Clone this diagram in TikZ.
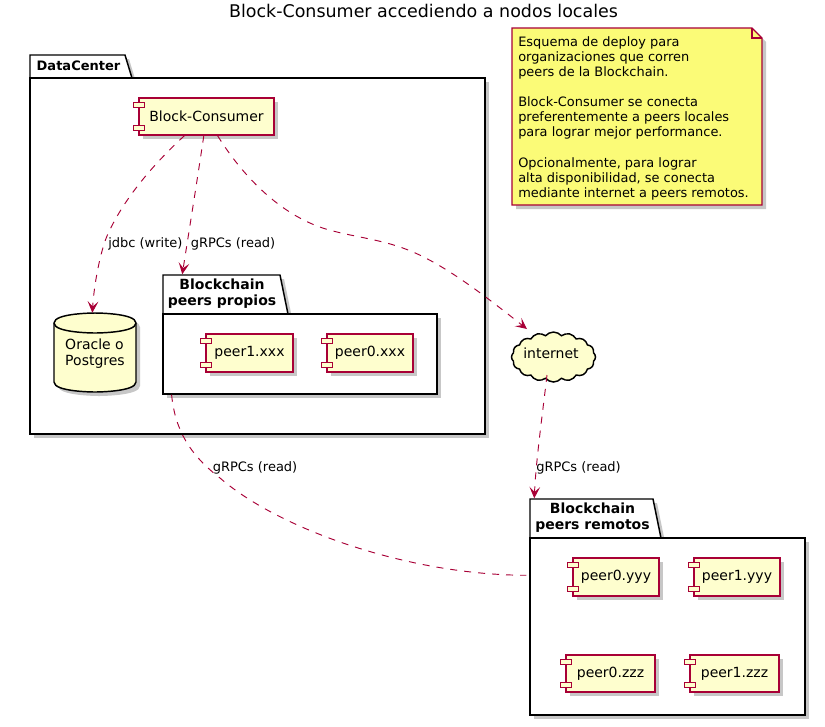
\documentclass[tikz,border=0pt]{standalone}
\usepackage{fontspec}
\setmainfont{DejaVu Sans}
\usetikzlibrary{shapes.symbols,shadows,arrows.meta}
\definecolor{umlred}{HTML}{A80036}
\definecolor{umlfill}{HTML}{FEFECE}
\definecolor{umlnote}{HTML}{FBFB77}
\tikzset{
	boxshadow/.style={drop shadow={shadow xshift=3pt,shadow yshift=-3pt,fill=black!40,opacity=0.55}},
	pkgbody/.style={draw=black,line width=1.1pt,fill=white,boxshadow,inner sep=0pt},
	pkgtab/.style={draw=black,line width=1.1pt,fill=white,boxshadow},
	pkgtext/.style={font=\fontsize{10.5}{12}\selectfont\bfseries,align=center,inner sep=0pt},
	comp/.style={draw=umlred,line width=0.9pt,fill=umlfill,boxshadow,inner sep=0pt,font=\fontsize{10.5}{12}\selectfont},
	comptab/.style={draw=umlred,line width=0.8pt,fill=umlfill},
	dep/.style={draw=umlred,line width=0.7pt,dash pattern=on 5.25pt off 5.25pt},
	deparrow/.style={dep,-{Stealth[length=8.5pt,width=8pt,inset=3.8pt]}},
	edgetext/.style={font=\fontsize{9.75}{11.4}\selectfont,anchor=west,inner sep=0pt},
}
\newcommand{\compnode}[6]{%
	\node[comp,minimum width=#4*0.75pt,minimum height=#5*0.75pt] (#1) at (#2,#3) {#6};
	\draw[comptab] ([shift={(-5,5)}]#1.north west) rectangle ++(11,5);
	\draw[comptab] ([shift={(-5,-10)}]#1.south west) rectangle ++(11,5);
}
\begin{document}
\begin{tikzpicture}[x=0.75pt,y=0.75pt,yscale=-1,xscale=1]
	\useasboundingbox (0,0) rectangle (825,726);
	
	% Title
	\node[font=\fontsize{13.1}{16}\selectfont,inner sep=0pt] (title) at (423.5,11) {Block-Consumer accediendo a nodos locales};
	
	% DataCenter
	\draw[pkgtab] (30,78) -- (30,55) -- (125,55) -- (132,78) -- cycle;
	\node[pkgbody,minimum width=455*0.75pt,minimum height=356*0.75pt] (dc) at (257.5,256) {};
	\node[pkgtext,font=\fontsize{9.75}{12}\selectfont\bfseries] (dctext) at (78.5,66) {DataCenter};
	
	% Note
	\draw[draw=umlred,line width=0.9pt,fill=umlnote,boxshadow] (512,28) -- (752,28) -- (762,38) -- (762,205) -- (512,205) -- cycle;
	\draw[draw=umlred,line width=0.9pt] (752,28) -- (752,38) -- (762,38);
	\node[anchor=north west,inner sep=0pt,align=left,font=\fontsize{9.7}{11.35}\selectfont] (note) at (518,36) {Esquema de deploy para\\organizaciones que corren\\peers de la Blockchain.\\~\\Block-Consumer se conecta\\preferentemente a peers locales\\para lograr mejor performance.\\~\\Opcionalmente, para lograr\\alta disponibilidad, se conecta\\mediante internet a peers remotos.};
	
	% Components in the data center
	\compnode{consumer}{206.5}{116.5}{135}{37}{Block-Consumer}
	
	% Database
	\draw[draw=black,line width=1.1pt,fill=umlfill,boxshadow] (54,323) .. controls (54,313) and (95,313) .. (95,313) .. controls (95,313) and (136,313) .. (136,323) -- (136,382) .. controls (136,392) and (95,392) .. (95,392) .. controls (95,392) and (54,392) .. (54,382) -- cycle;
	\draw[draw=black,line width=1.1pt] (54,323) .. controls (54,333) and (95,333) .. (95,333) .. controls (95,333) and (136,333) .. (136,323);
	\node[inner sep=0pt,minimum width=82*0.75pt,minimum height=79*0.75pt] (db) at (95,352.5) {};
	\node[align=left,inner sep=0pt,font=\fontsize{10.5}{12}\selectfont] (dbtext) at (95,354) {Oracle o\\Postgres};
	
	% Blockchain peers propios
	\draw[pkgtab] (163,314) -- (163,275) -- (280,275) -- (288,314) -- cycle;
	\node[pkgbody,minimum width=274*0.75pt,minimum height=80*0.75pt] (propios) at (300,354) {};
	\node[pkgtext] (propiostext) at (222,294) {Blockchain\\peers propios};
	\compnode{peeronexxx}{249.5}{353}{87}{38}{peer1.xxx}
	\compnode{peerzeroxxx}{370}{353}{86}{38}{peer0.xxx}
	
	% Internet
	\node[draw=black,line width=1.1pt,fill=umlfill,shape=cloud,cloud puffs=16,cloud puff arc=100,aspect=1.7,minimum width=84*0.75pt,minimum height=50*0.75pt,inner sep=0pt] (internet) at (553.5,357) {};
	\node[inner sep=0pt,font=\fontsize{10.5}{12}\selectfont] (internettext) at (551,353) {internet};
	
	% Blockchain peers remotos
	\draw[pkgtab] (530,538) -- (530,499) -- (653,499) -- (661,538) -- cycle;
	\node[pkgbody,minimum width=275*0.75pt,minimum height=177*0.75pt] (remotos) at (667.5,626.5) {};
	\node[pkgtext] (remotostext) at (592.5,518) {Blockchain\\peers remotos};
	\compnode{peerzeroyyy}{616}{577}{86}{38}{peer0.yyy}
	\compnode{peeroneyyy}{737}{577}{86}{38}{peer1.yyy}
	\compnode{peerzerozzz}{610.5}{673.5}{89}{37}{peer0.zzz}
	\compnode{peeronezzz}{734.5}{673.5}{89}{37}{peer1.zzz}
	
	% Connections
	\draw[deparrow] (consumer.-139) .. controls (160,158) and (125,195) .. (107,236) .. controls (100,253) and (94,285) .. ([xshift=-2]db.north);
	\draw[deparrow] (consumer.-98) .. controls (198,175) and (190,225) .. ([shift={(20,-39)}]propios.north west);
	\draw[deparrow] (consumer.-60) .. controls (240,172) and (280,218) .. (333,231) .. controls (360,238) and (385,240) .. (413,252) .. controls (450,268) and (490,300) .. ([shift={(-26.5,-28)}]internet.center);
	\draw[deparrow] ([shift={(-6.5,18)}]internet.center) .. controls (543,410) and (536,460) .. ([shift={(5,-39)}]remotos.north west);
	\draw[dep] ([xshift=7]propios.south west) .. controls (175,430) and (190,455) .. (220,478) .. controls (280,530) and (410,575) .. ([shift={(-3,38)}]remotos.north west);
	
	% Edge labels
	\node[edgetext] (jdbc) at (108,244) {jdbc (write)};
	\node[edgetext] (grpcone) at (190.5,244) {gRPCs (read)};
	\node[edgetext] (grpctwo) at (212.5,468) {gRPCs (read)};
	\node[edgetext] (grpcthree) at (536,468) {gRPCs (read)};
	
\end{tikzpicture}
\end{document}
